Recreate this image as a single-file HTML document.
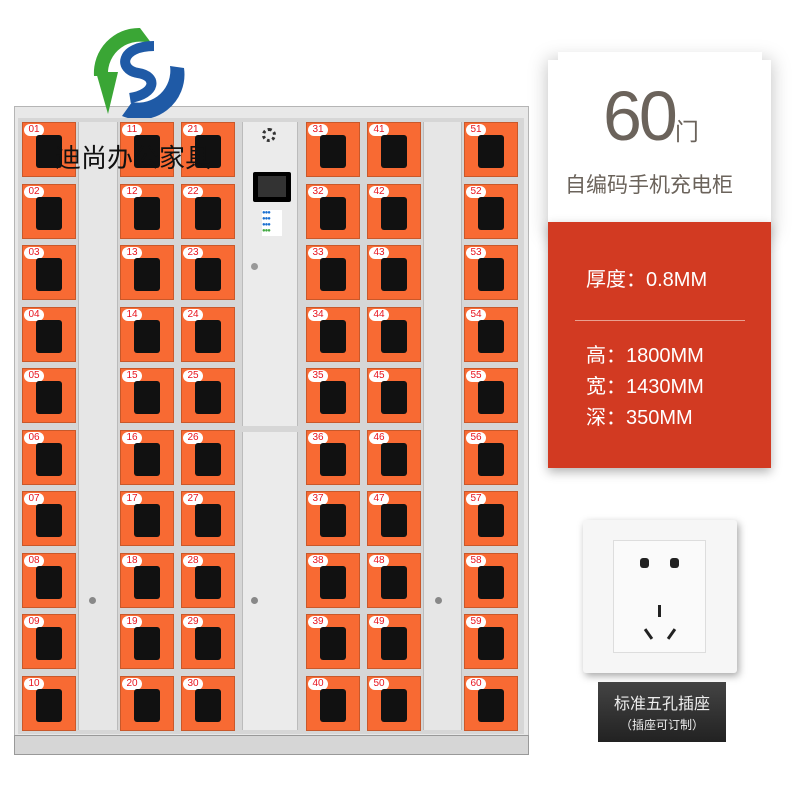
<!DOCTYPE html>
<html><head><meta charset="utf-8"><style>
*{margin:0;padding:0;box-sizing:border-box}
body{width:800px;height:800px;background:#fff;position:relative;overflow:hidden;font-family:"Liberation Sans","Noto Sans CJK SC",sans-serif}
.a{position:absolute}
.col{position:absolute;top:122px;width:54px}
.d{height:55px;margin-bottom:6.55px;background:#f86a33;border:1px solid #c9582a;position:relative}
.d b{position:absolute;left:13px;top:12px;width:26px;height:33px;background:#111;border-radius:3px}
.d i{position:absolute;left:1px;top:1px;width:20px;height:12px;background:#fff;border-radius:6px;color:#e8141e;font-style:normal;font-size:10px;line-height:12px;text-align:center}
.strip{position:absolute;background:#e6e6e6;border-left:1px solid #bbb;border-right:1px solid #bbb}
.t{color:#fff;font-size:20px}
</style></head><body>
<!-- cabinet -->
<div class="a" style="left:14px;top:106px;width:515px;height:649px;background:#e8e8e8;border:1px solid #b5b5b5"></div>
<div class="a" style="left:18px;top:118px;width:506px;height:616px;background:#d6d6d6"></div>
<div class="strip" style="left:78px;top:122px;width:40px;height:608px"></div>
<div class="strip" style="left:423px;top:122px;width:39px;height:608px"></div>
<div class="strip" style="left:242px;top:122px;width:56px;height:304px;background:#ebebeb"></div>
<div class="strip" style="left:242px;top:432px;width:56px;height:298px;background:#ebebeb"></div>
<div class="a" style="left:14px;top:735px;width:515px;height:20px;background:#d6d6d6;border:1px solid #999"></div>
<div class="a" style="left:89px;top:597px;width:7px;height:7px;border-radius:50%;background:#888"></div>
<div class="a" style="left:435px;top:597px;width:7px;height:7px;border-radius:50%;background:#888"></div>
<div class="a" style="left:251px;top:597px;width:7px;height:7px;border-radius:50%;background:#888"></div>
<div class="a" style="left:251px;top:263px;width:7px;height:7px;border-radius:50%;background:#999"></div>
<div class="a" style="left:262px;top:128px;width:14px;height:14px;border-radius:50%;border:3px dotted #333"></div>
<div class="a" style="left:253px;top:172px;width:38px;height:30px;background:#000;border-radius:2px"><div style="margin:4px 5px;height:21px;background:#333"></div></div>
<div class="a" style="left:262px;top:210px;width:20px;height:26px;background:#fff;font-size:6px;line-height:6px;color:#1a6fd0;letter-spacing:-1px">●●●<br>●●●<br>●●●<br><span style="color:#4a4">●●●</span></div>

<div class="col" style="left:22px"><div class="d"><i>01</i><b></b></div><div class="d"><i>02</i><b></b></div><div class="d"><i>03</i><b></b></div><div class="d"><i>04</i><b></b></div><div class="d"><i>05</i><b></b></div><div class="d"><i>06</i><b></b></div><div class="d"><i>07</i><b></b></div><div class="d"><i>08</i><b></b></div><div class="d"><i>09</i><b></b></div><div class="d"><i>10</i><b></b></div></div>
<div class="col" style="left:120px"><div class="d"><i>11</i><b></b></div><div class="d"><i>12</i><b></b></div><div class="d"><i>13</i><b></b></div><div class="d"><i>14</i><b></b></div><div class="d"><i>15</i><b></b></div><div class="d"><i>16</i><b></b></div><div class="d"><i>17</i><b></b></div><div class="d"><i>18</i><b></b></div><div class="d"><i>19</i><b></b></div><div class="d"><i>20</i><b></b></div></div>
<div class="col" style="left:181px"><div class="d"><i>21</i><b></b></div><div class="d"><i>22</i><b></b></div><div class="d"><i>23</i><b></b></div><div class="d"><i>24</i><b></b></div><div class="d"><i>25</i><b></b></div><div class="d"><i>26</i><b></b></div><div class="d"><i>27</i><b></b></div><div class="d"><i>28</i><b></b></div><div class="d"><i>29</i><b></b></div><div class="d"><i>30</i><b></b></div></div>
<div class="col" style="left:306px"><div class="d"><i>31</i><b></b></div><div class="d"><i>32</i><b></b></div><div class="d"><i>33</i><b></b></div><div class="d"><i>34</i><b></b></div><div class="d"><i>35</i><b></b></div><div class="d"><i>36</i><b></b></div><div class="d"><i>37</i><b></b></div><div class="d"><i>38</i><b></b></div><div class="d"><i>39</i><b></b></div><div class="d"><i>40</i><b></b></div></div>
<div class="col" style="left:367px"><div class="d"><i>41</i><b></b></div><div class="d"><i>42</i><b></b></div><div class="d"><i>43</i><b></b></div><div class="d"><i>44</i><b></b></div><div class="d"><i>45</i><b></b></div><div class="d"><i>46</i><b></b></div><div class="d"><i>47</i><b></b></div><div class="d"><i>48</i><b></b></div><div class="d"><i>49</i><b></b></div><div class="d"><i>50</i><b></b></div></div>
<div class="col" style="left:464px"><div class="d"><i>51</i><b></b></div><div class="d"><i>52</i><b></b></div><div class="d"><i>53</i><b></b></div><div class="d"><i>54</i><b></b></div><div class="d"><i>55</i><b></b></div><div class="d"><i>56</i><b></b></div><div class="d"><i>57</i><b></b></div><div class="d"><i>58</i><b></b></div><div class="d"><i>59</i><b></b></div><div class="d"><i>60</i><b></b></div></div>

<!-- logo -->
<svg class="a" style="left:88px;top:26px" width="100" height="92" viewBox="0 0 100 92">
<path d="M52 2 A45 45 0 0 0 6 50 L20 50 A32 32 0 0 1 64 18 Z" fill="#3aa635"/>
<path d="M8 46 L30 46 L20 88 Z" fill="#3aa635"/>
<path d="M34 90 A45 45 0 0 0 96 42 L82 40 A32 32 0 0 1 44 76 Z" fill="#1f5aa6"/>
<path d="M66 20 C32 20 30 44 50 47 C70 50 68 68 42 72" stroke="#1f5aa6" stroke-width="10" fill="none"/>
</svg>
<div class="a" style="left:55px;top:138px;font-size:26px;color:#111">迪尚办公家具</div>

<!-- right card -->
<div class="a" style="left:548px;top:60px;width:223px;height:175px;box-shadow:0 0 18px rgba(0,0,0,.25)"></div>
<div class="a" style="left:558px;top:52px;width:204px;height:172px;background:#fff"></div>
<div class="a" style="left:603px;top:76px;font-size:70px;color:#6b635b;letter-spacing:-3px;line-height:80px">60<span style="font-size:24px;letter-spacing:0">门</span></div>
<div class="a" style="left:565px;top:169px;font-size:21px;color:#6b635b">自编码手机充电柜</div>
<div class="a" style="left:548px;top:222px;width:223px;height:246px;background:#d23a22;box-shadow:0 4px 10px rgba(0,0,0,.3)"></div>
<div class="a t" style="left:586px;top:263px">厚度：0.8MM</div>
<div class="a" style="left:575px;top:320px;width:170px;height:1px;background:#e9a090"></div>
<div class="a t" style="left:586px;top:339px">高：1800MM</div>
<div class="a t" style="left:586px;top:370px">宽：1430MM</div>
<div class="a t" style="left:586px;top:401px">深：350MM</div>

<!-- socket -->
<div class="a" style="left:583px;top:520px;width:154px;height:153px;background:#f6f6f6;border-radius:3px;box-shadow:2px 3px 8px rgba(0,0,0,.35)"></div>
<div class="a" style="left:613px;top:540px;width:93px;height:113px;background:#fafafa;border:1px solid #ddd"></div>
<div class="a" style="left:640px;top:558px;width:9px;height:10px;background:#222;border-radius:3px"></div>
<div class="a" style="left:670px;top:558px;width:9px;height:10px;background:#222;border-radius:3px"></div>
<div class="a" style="left:658px;top:605px;width:3px;height:12px;background:#222"></div>
<div class="a" style="left:647px;top:628px;width:3px;height:12px;background:#222;transform:rotate(-35deg)"></div>
<div class="a" style="left:670px;top:628px;width:3px;height:12px;background:#222;transform:rotate(35deg)"></div>
<div class="a" style="left:598px;top:682px;width:128px;height:60px;background:linear-gradient(#444,#222);color:#eee;text-align:center">
<div style="font-size:16px;margin-top:8px">标准五孔插座</div><div style="font-size:12px;margin-top:2px">（插座可订制）</div></div>
</body></html>
